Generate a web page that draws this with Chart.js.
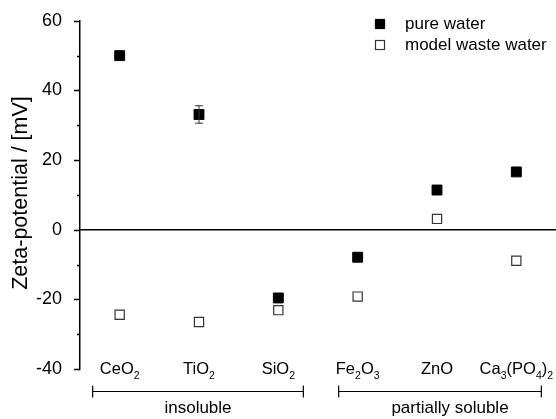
<!DOCTYPE html>
<html>
<head>
<meta charset="utf-8">
<script src="https://cdn.jsdelivr.net/npm/chart.js@4/dist/chart.umd.min.js"></script>
<style>
  html, body { margin: 0; padding: 0; background: #fff; }
  #wrap { width: 556px; height: 419px; position: relative; }
</style>
</head>
<body>
<div id="wrap"><canvas id="chart"></canvas></div>
<script>
// categories as [base, subscript, base, subscript, ...] pieces
const categories = [
	['Ce', '', 'O', '2'],
	['Ti', '', 'O', '2'],
	['Si', '', 'O', '2'],
	['Fe', '2', 'O', '3'],
	['Zn', '', 'O', ''],
	['Ca', '3', '(PO', '4', ')', '2'],
]
const pureWater = [50, 33.1, -19.6, -7.9, 11.4, 16.6]
const pureWaterErr = [0, 2.5, 0, 0, 0, 0]
const wasteWater = [-24.4, -26.5, -23.1, -19.2, 3.1, -8.9]
const yTicks = [-40, -20, 0, 20, 40, 60]
const groupLabels = ['insoluble', 'partially soluble']
const groupFrom = [1, 4]
const groupTo = [3, 6]

const FONT = '"Liberation Sans", Arial, sans-serif'

// bracket overhang (px) left / right of the first / last category, and label offset
const bracketStyle = [
	{ left: 27, right: 25, labelShift: 0 },
	{ left: 19, right: 25, labelShift: 10 },
]

const toPoints = (arr) => arr.map((v, i) => ({ x: i + 1, y: v }))

const extras = {
	id: 'extras',
	afterDraw(chart) {
		const { ctx, chartArea, scales } = chart
		const x = scales.x
		const y = scales.y
		ctx.save()

		// zero line
		ctx.strokeStyle = '#000'
		ctx.lineWidth = 1.5
		ctx.beginPath()
		ctx.moveTo(chartArea.left, y.getPixelForValue(0))
		ctx.lineTo(chartArea.right, y.getPixelForValue(0))
		ctx.stroke()

		// y axis ticks, major and minor
		ctx.lineWidth = 1.5
		for (let v = -40; v <= 60; v += 10) {
			const py = Math.round(y.getPixelForValue(v)) + 0.5
			const len = v % 20 === 0 ? 6 : 3
			ctx.beginPath()
			ctx.moveTo(chartArea.left - len, py)
			ctx.lineTo(chartArea.left, py)
			ctx.stroke()
		}

		// error bars
		ctx.lineWidth = 1
		ctx.strokeStyle = '#333'
		pureWater.forEach((v, i) => {
			const e = pureWaterErr[i]
			if (!e) return
			const px = x.getPixelForValue(i + 1)
			const top = y.getPixelForValue(v + e)
			const bot = y.getPixelForValue(v - e)
			ctx.beginPath()
			ctx.moveTo(px, top)
			ctx.lineTo(px, bot)
			ctx.moveTo(px - 4, top)
			ctx.lineTo(px + 4, top)
			ctx.moveTo(px - 4, bot)
			ctx.lineTo(px + 4, bot)
			ctx.stroke()
		})

		// category labels with subscripts
		ctx.fillStyle = '#000'
		ctx.textBaseline = 'alphabetic'
		ctx.textAlign = 'left'
		const base = '16.5px ' + FONT
		const sub = '10.5px ' + FONT
		categories.forEach((parts, i) => {
			let w = 0
			parts.forEach((p, k) => {
				ctx.font = k % 2 === 0 ? base : sub
				w += ctx.measureText(p).width
			})
			let cx = x.getPixelForValue(i + 1) - w / 2
			const by = 374
			parts.forEach((p, k) => {
				ctx.font = k % 2 === 0 ? base : sub
				ctx.fillText(p, cx, k % 2 === 0 ? by : by + 5)
				cx += ctx.measureText(p).width
			})
		})

		// group brackets
		ctx.strokeStyle = '#000'
		ctx.lineWidth = 1.2
		ctx.font = '17px ' + FONT
		ctx.textAlign = 'center'
		groupLabels.forEach((label, g) => {
			const st = bracketStyle[g]
			const x1 = x.getPixelForValue(groupFrom[g]) - st.left
			const x2 = x.getPixelForValue(groupTo[g]) + st.right
			const ly = 391.5
			ctx.beginPath()
			ctx.moveTo(x1, ly)
			ctx.lineTo(x2, ly)
			ctx.moveTo(x1, ly - 6)
			ctx.lineTo(x1, ly + 6)
			ctx.moveTo(x2, ly - 6)
			ctx.lineTo(x2, ly + 6)
			ctx.stroke()
			ctx.fillText(label, (x1 + x2) / 2 + st.labelShift, 413)
		})

		// y axis title
		ctx.save()
		ctx.translate(27, 193)
		ctx.rotate(-Math.PI / 2)
		ctx.font = '21.5px ' + FONT
		ctx.textAlign = 'center'
		ctx.textBaseline = 'alphabetic'
		ctx.fillText('Zeta-potential / [mV]', 0, 0)
		ctx.restore()

		// legend
		ctx.font = '17px ' + FONT
		ctx.textAlign = 'left'
		ctx.textBaseline = 'middle'
		chart.data.datasets.forEach((ds, i) => {
			const ly = 24 + i * 21
			ctx.fillStyle = ds.backgroundColor
			ctx.strokeStyle = ds.borderColor
			ctx.lineWidth = 1.2
			ctx.fillRect(375.5, ly - 4.5, 9, 9)
			ctx.strokeRect(375.5, ly - 4.5, 9, 9)
			ctx.fillStyle = '#000'
			ctx.fillText(ds.label, 405, ly)
		})

		ctx.restore()
	},
}

const chart = new Chart(document.getElementById('chart'), {
	type: 'scatter',
	data: {
		datasets: [
			{
				label: 'pure water',
				data: toPoints(pureWater),
				pointStyle: 'rect',
				pointRadius: 7,
				backgroundColor: '#000',
				borderColor: '#000',
				borderWidth: 1,
			},
			{
				label: 'model waste water',
				data: toPoints(wasteWater),
				pointStyle: 'rect',
				pointRadius: 6.5,
				backgroundColor: '#fff',
				borderColor: '#333',
				borderWidth: 1.2,
			},
		],
	},
	options: {
		responsive: true,
		maintainAspectRatio: false,
		animation: false,
		layout: { autoPadding: false, padding: { top: 19, bottom: 50, right: 0, left: 0 } },
		plugins: {
			legend: { display: false },
			tooltip: { enabled: false },
		},
		scales: {
			x: {
				type: 'linear',
				min: 0.5,
				max: 6.5,
				display: false,
			},
			y: {
				min: -40,
				max: 60,
				afterFit: (scale) => { scale.width = 80 },
				afterBuildTicks: (scale) => { scale.ticks = yTicks.map((v) => ({ value: v })) },
				grid: { display: false },
				border: { display: true, color: '#000', width: 1.5 },
				ticks: {
					color: '#000',
					padding: 10,
					font: { size: 18, family: FONT },
				},
			},
		},
	},
	plugins: [extras],
})
</script>
</body>
</html>
